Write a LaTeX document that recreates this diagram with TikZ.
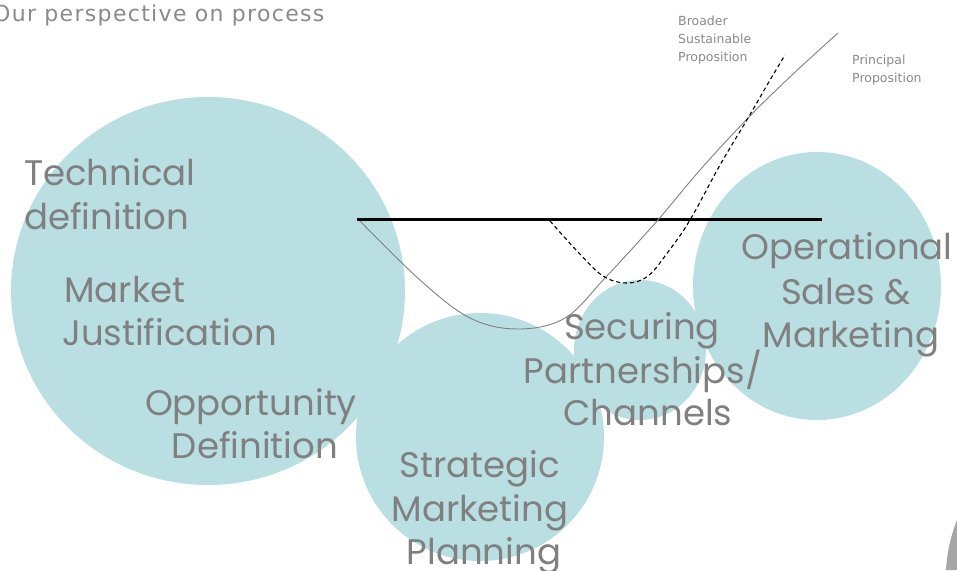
\documentclass[tikz,border=0pt]{standalone}
\usepackage{fontspec}
\setmainfont{Poppins}
\newfontfamily\smallfont{DejaVu Sans}
\newfontfamily\titlefont[LetterSpace=6]{DejaVu Sans}
\definecolor{bub}{HTML}{B9DFE3}
\definecolor{txt}{HTML}{808080}
\definecolor{ttl}{HTML}{8A8A8A}
\tikzset{
  bubble/.style={fill=bub, draw=none},
  big/.style={text=txt, inner sep=0pt, font=\fontsize{35.5}{42}\selectfont},
  tiny/.style={text=ttl, inner sep=0pt, anchor=base west, font=\smallfont\fontsize{12.5}{15}\selectfont},
  axis/.style={line width=3pt, black},
  princ/.style={line width=0.9pt, txt},
  broad/.style={line width=1.1pt, black, dash pattern=on 4pt off 3pt}
}
\begin{document}
\begin{tikzpicture}[x=1pt,y=-1pt]
\useasboundingbox (0,0) rectangle (957,570);
\clip (0,0) rectangle (957,570);
% bubbles
\fill[bubble] (208,291) ellipse [x radius=197, y radius=194];
\fill[bubble] (480,437) circle [radius=124];
\fill[bubble] (640,350) ellipse [x radius=66, y radius=70];
\fill[bubble] (817,286) ellipse [x radius=124, y radius=134];
% photo edge bottom right
\fill[gray!70] (957,520) .. controls (951,535) and (947,552) .. (946,570) -- (957,570) -- cycle;
% curves
\coordinate (h1) at (357,219);
\coordinate (h2) at (822,219);
\draw[axis] (h1) -- (h2);
\draw[princ] plot[smooth, tension=0.6] coordinates {(360,221) (420,280) (470,318) (518,329) (565,318) (605,278) (657,221) (700,170) (748,118) (792,75) (838,33)};
\draw[broad] plot[smooth, tension=0.6] coordinates {(550,221) (578,252) (603,276) (627,283) (648,276) (668,252) (690,220) (720,165) (748,118) (770,80) (785,55)};
% title
\node[anchor=base west, inner sep=0pt, text=ttl, font=\titlefont\fontsize{22}{25}\selectfont] (title) at (-7,21) {Our perspective on process};
% small labels
\node[tiny] (b1) at (678,25) {Broader};
\node[tiny] (b2) at (678,43) {Sustainable};
\node[tiny] (b3) at (678,61) {Proposition};
\node[tiny] (p1) at (852,64) {Principal};
\node[tiny] (p2) at (852,82) {Proposition};
% big labels
\node[big, anchor=base west] (t1) at (24,185) {Technical};
\node[big, anchor=base west] (t2) at (24,229) {definition};
\node[big, anchor=base west] (m1) at (64,302) {Market};
\node[big, anchor=base west] (m2) at (62,345) {Justification};
\node[big, anchor=base] (o1) at (251,415) {Opportunity};
\node[big, anchor=base] (o2) at (255,458) {Definition};
\node[big, anchor=base] (s1) at (480,477) {Strategic};
\node[big, anchor=base] (s2) at (480,521) {Marketing};
\node[big, anchor=base] (s3) at (484,564) {Planning};
\node[big, anchor=base] (c1) at (642,339) {Securing};
\node[big, anchor=base] (c2) at (643,383) {Partnerships/};
\node[big, anchor=base] (c3) at (648,425) {Channels};
\node[big, anchor=base] (r1) at (847,259) {Operational};
\node[big, anchor=base] (r2) at (846,304) {Sales \&};
\node[big, anchor=base] (r3) at (851,347) {Marketing};
\end{tikzpicture}
\end{document}
